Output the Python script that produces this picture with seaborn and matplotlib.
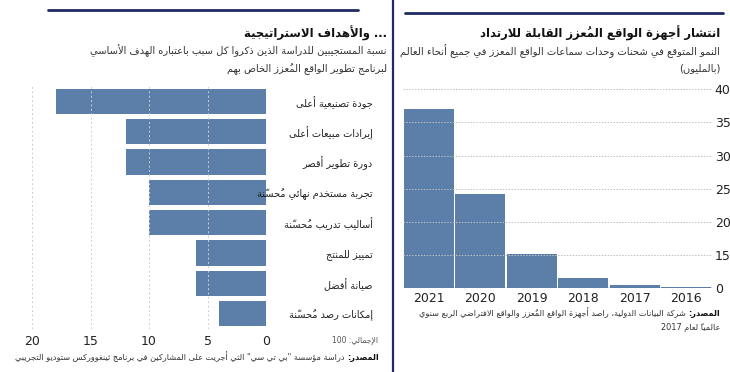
import matplotlib
matplotlib.use("Agg")
import matplotlib.pyplot as plt
from matplotlib.lines import Line2D
import seaborn as sns
import pandas as pd

# ---- data: left panel (strategic goals, % of respondents)
goals = ["جودة تصنيعية أعلى", "إيرادات مبيعات أعلى", "دورة تطوير أقصر",
         "تجربة مستخدم نهائي مُحسّنة", "أساليب تدريب مُحسّنة", "تمييز للمنتج",
         "صيانة أفضل", "إمكانات رصد مُحسّنة"]
goal_pct = [18, 12, 12, 10, 10, 6, 6, 4]
goal_ticks = [20, 15, 10, 5, 0]

# ---- data: right panel (AR headset shipments)
years = ["2021", "2020", "2019", "2018", "2017", "2016"]
shipments = [27.1, 14.2, 5.2, 1.5, 0.45, 0.12]
ship_ticks = [0, 5, 10, 15, 20, 25, 30]
ship_tick_labels = ["0", "15", "20", "25", "30", "35", "40"]

left_title = "... والأهداف الاستراتيجية"
left_sub = ["نسبة المستجيبين للدراسة الذين ذكروا كل سبب باعتباره الهدف الأساسي",
            "لبرنامج تطوير الواقع المُعزز الخاص بهم"]
left_total = "الإجمالي: 100"
left_src = ' دراسة مؤسسة "بي تي سي" التي أجريت على المشاركين في برنامج ثينغووركس ستوديو التجريبي'
right_title = "انتشار أجهزة الواقع المُعزز القابلة للارتداد"
right_sub = ["النمو المتوقع في شحنات وحدات سماعات الواقع المعزز في جميع أنحاء العالم",
             "(بالمليون)"]
right_src = [" شركة البيانات الدولية، راصد أجهزة الواقع المُعزز والواقع الافتراضي الربع سنوي",
             "عالمياً لعام 2017"]
src_word = "المصدر:"

bar_color = "#5b7fa9"
navy = "#1d2b5e"

# ---- minimal arabic shaping (matplotlib has no RTL / joining support)
DUAL = {'ئ': 0xFE89, 'ب': 0xFE8F, 'ت': 0xFE95, 'ث': 0xFE99, 'ج': 0xFE9D, 'ح': 0xFEA1,
        'خ': 0xFEA5, 'س': 0xFEB1, 'ش': 0xFEB5, 'ص': 0xFEB9, 'ض': 0xFEBD, 'ط': 0xFEC1,
        'ظ': 0xFEC5, 'ع': 0xFEC9, 'غ': 0xFECD, 'ف': 0xFED1, 'ق': 0xFED5, 'ك': 0xFED9,
        'ل': 0xFEDD, 'م': 0xFEE1, 'ن': 0xFEE5, 'ه': 0xFEE9, 'ي': 0xFEF1}
RIGHT = {'آ': 0xFE81, 'أ': 0xFE83, 'ؤ': 0xFE85, 'إ': 0xFE87, 'ا': 0xFE8D, 'ة': 0xFE93,
         'د': 0xFEA9, 'ذ': 0xFEAB, 'ر': 0xFEAD, 'ز': 0xFEAF, 'و': 0xFEED, 'ى': 0xFEEF}
LAMALEF = {'آ': 0xFEF5, 'أ': 0xFEF7, 'إ': 0xFEF9, 'ا': 0xFEFB}
MIRROR = {'(': ')', ')': '('}


def is_mark(c):
    return 0x064B <= ord(c) <= 0x0652 or ord(c) == 0x0670


def ar(txt):
    clusters = []
    for c in txt:
        if is_mark(c) and clusters:
            clusters[-1][1] += c
        else:
            clusters.append([c, ""])
    # lam-alef ligature
    merged = []
    for cl in clusters:
        if merged and merged[-1][0] == 'ل' and cl[0] in LAMALEF:
            merged[-1] = ['LA' + cl[0], merged[-1][1] + cl[1]]
        else:
            merged.append(cl)

    def jt(b):
        if b in DUAL:
            return 'D'
        if b in RIGHT or b.startswith('LA'):
            return 'R'
        return 'U'

    out = []
    for k, (b, m) in enumerate(merged):
        t = jt(b)
        prev_j = k > 0 and jt(merged[k - 1][0]) == 'D' and t in 'DR'
        next_j = t == 'D' and k + 1 < len(merged) and jt(merged[k + 1][0]) in 'DR'
        if t == 'D':
            g = chr(DUAL[b] + (3 if prev_j and next_j else 1 if prev_j else 2 if next_j else 0))
        elif b.startswith('LA'):
            g = chr(LAMALEF[b[2]] + (1 if prev_j else 0))
        elif t == 'R':
            g = chr(RIGHT[b] + (1 if prev_j else 0))
        else:
            g = MIRROR.get(b, b)
        # marks go first so they sit over their letter once reversed
        out.append((m + g, b.isascii() and b.isalnum()))
    # reverse for display, keeping digit runs left-to-right
    runs, cur = [], []
    for g, ltr in out:
        if cur and cur[-1][1] != ltr:
            runs.append(cur)
            cur = []
        cur.append((g, ltr))
    if cur:
        runs.append(cur)
    vis = ""
    for r in reversed(runs):
        seq = r if r[0][1] else list(reversed(r))
        vis += "".join(g for g, _ in seq)
    return vis


sns.set_style("white")
plt.rcParams['font.family'] = ['DejaVu Sans']

W, H = 730, 372
fig = plt.figure(figsize=(7.3, 3.72), dpi=100)


def fx(px):
    return px / W


def fy(py):
    return 1 - py / H


# ---------------- left panel
df_goals = pd.DataFrame({"goal": goals, "pct": goal_pct})
ax1 = fig.add_axes([fx(17), fy(329), fx(249), (329 - 86) / H])
sns.barplot(data=df_goals, x="pct", y="goal", orient="h", color=bar_color,
            saturation=1, width=0.83, linewidth=0, ax=ax1)
ax1.set_xlim(21.3, 0)
ax1.set_xticks(goal_ticks)
ax1.set_xticklabels([str(v) for v in goal_ticks])
ax1.set_xlabel("")
ax1.set_ylabel("")
ax1.set_yticks(range(len(goals)))
ax1.set_yticklabels([ar(g) for g in goals])
ax1.yaxis.tick_right()
ax1.tick_params(axis='y', length=0, pad=77, labelsize=7, labelcolor="#222222")
ax1.tick_params(axis='x', length=0, pad=4, labelsize=9, labelcolor="#222222")
for lab in ax1.get_yticklabels():
    lab.set_horizontalalignment('right')
ax1.grid(axis='x', color='#cfcfcf', linestyle=(0, (2, 2.5)), linewidth=0.7)
ax1.grid(axis='y', visible=False)
ax1.set_axisbelow(False)
sns.despine(ax=ax1, left=True, bottom=True)

# ---------------- right panel
df_ship = pd.DataFrame({"year": years, "val": shipments})
ax2 = fig.add_axes([fx(403), fy(288), fx(309), 200 / H])
sns.barplot(data=df_ship, x="year", y="val", order=years, color=bar_color,
            saturation=1, width=0.97, linewidth=0, ax=ax2)
ax2.set_ylim(0, 30.2)
ax2.set_xlabel("")
ax2.set_ylabel("")
ax2.set_yticks(ship_ticks)
ax2.set_yticklabels(ship_tick_labels)
ax2.yaxis.tick_right()
ax2.tick_params(axis='y', length=0, pad=2, labelsize=9, labelcolor="#222222")
ax2.tick_params(axis='x', length=0, pad=3, labelsize=9, labelcolor="#222222")
ax2.grid(axis='y', color='#c0c0c0', linestyle=(0, (1.5, 1.5)), linewidth=0.7)
ax2.grid(axis='x', visible=False)
ax2.set_axisbelow(False)
ax2.axhline(0, color='#777777', linewidth=1, zorder=0)
sns.despine(ax=ax2, left=True, bottom=True)

# ---------------- decorations
fig.add_artist(Line2D([fx(393), fx(393)], [0, 1], color=navy, linewidth=1.6))
fig.add_artist(Line2D([fx(48), fx(358)], [fy(10), fy(10)], color=navy, linewidth=2))
fig.add_artist(Line2D([fx(405), fx(723)], [fy(13), fy(13)], color=navy, linewidth=2))

# ---------------- texts
fig.text(fx(387), fy(33), ar(left_title), ha='right', va='center', fontsize=8.4,
         fontweight='bold', color='#111111')
fig.text(fx(387), fy(51), ar(left_sub[0]), ha='right', va='center', fontsize=7.1, color='#333333')
fig.text(fx(387), fy(69), ar(left_sub[1]), ha='right', va='center', fontsize=7.1, color='#333333')
fig.text(fx(378), fy(340), ar(left_total), ha='right', va='center', fontsize=5.5, color='#555555')

fig.text(fx(720), fy(33), ar(right_title), ha='right', va='center', fontsize=8.4,
         fontweight='bold', color='#111111')
fig.text(fx(720), fy(51), ar(right_sub[0]), ha='right', va='center', fontsize=7.2, color='#333333')
fig.text(fx(720), fy(68), ar(right_sub[1]), ha='right', va='center', fontsize=7.2, color='#333333')

renderer = fig.canvas.get_renderer()


def source_line(x, y, rest, size):
    t = fig.text(fx(x), fy(y), ar(src_word), ha='right', va='center', fontsize=size,
                 fontweight='bold', color='#111111')
    wpx = t.get_window_extent(renderer=renderer).width
    fig.text(fx(x - wpx), fy(y), ar(rest), ha='right', va='center', fontsize=size,
             color='#333333')


source_line(379, 357, left_src, 5.9)
source_line(720, 313, right_src[0], 5.9)
fig.text(fx(720), fy(328), ar(right_src[1]), ha='right', va='center', fontsize=5.9, color='#333333')

fig.savefig("out.png", dpi=100)
